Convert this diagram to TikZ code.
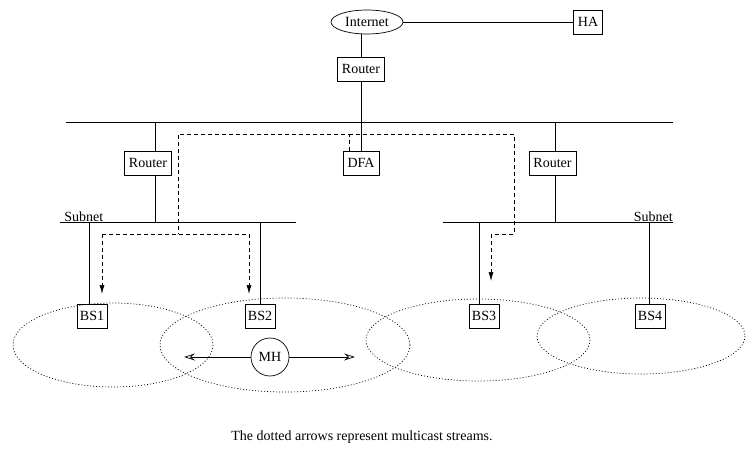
\documentclass[tikz,border=0pt]{standalone}
\usepackage{fontspec}
\setmainfont{Liberation Serif}
\usetikzlibrary{arrows.meta,shapes.geometric}
\begin{document}
\begin{tikzpicture}[x=1pt,y=-1pt,
  font=\fontsize{14}{16}\selectfont,
  line width=0.7pt,
  boxnode/.style={draw,fill=white,inner xsep=4.5pt,inner ysep=0pt,minimum height=24pt,text height=9.5pt,text depth=0.5pt},
  bsbox/.style={boxnode,inner xsep=3pt},
  dsh/.style={dash pattern=on 4pt off 3pt},
  dtd/.style={dash pattern=on 1pt off 2pt},
  darrow/.style={dsh,-{Latex[length=9pt,width=5pt]}},
  mharrow/.style={-{Stealth[open,length=11pt,width=7pt,inset=4pt]}},
  lbl/.style={inner sep=0pt}
]
\useasboundingbox (0,0) rectangle (746,463);

% nodes
\node[draw,ellipse,minimum width=72pt,minimum height=24pt,inner sep=0pt] (inet) at (367,22) {Internet};
\node[boxnode] (ha) at (588,22) {HA};
\node[boxnode] (rt) at (361,69) {Router};

% backbone and subnets
\coordinate (bbL) at (66,122);
\coordinate (bbR) at (673,122);
\coordinate (snLL) at (60,222);
\coordinate (snLR) at (296,222);
\coordinate (snRL) at (443,222);
\coordinate (snRR) at (673,222);
\draw (bbL) -- (bbR);
\draw (snLL) -- (snLR);
\draw (snRL) -- (snRR);

% router lines
\coordinate (lx) at (155,222);
\coordinate (rx) at (555,222);
\draw (lx) -- (lx |- bbL);
\draw (rx) -- (rx |- bbL);

\node[boxnode] (lr) at (148,163) {Router};
\node[boxnode] (rr) at (552.5,163) {Router};
\node[boxnode] (dfa) at (361,163) {DFA};

\draw (inet) -- (ha);
\draw (rt.north) -- (rt.north |- inet.south);
\draw (rt.south) -- (dfa.north);

\node[lbl,anchor=base west] (snl) at (64,221) {Subnet};
\node[lbl,anchor=base east] (snr) at (673,221) {Subnet};

% base stations
\node[bsbox] (bs1) at (92,316) {BS1};
\node[bsbox] (bs2) at (260,316) {BS2};
\node[bsbox] (bs3) at (484,316) {BS3};
\node[bsbox] (bs4) at (650,316) {BS4};

\coordinate (b1x) at (89,222);
\coordinate (b2x) at (260,222);
\coordinate (b3x) at (479,222);
\coordinate (b4x) at (649,222);
\draw (b1x) -- (b1x |- bs1.north);
\draw (b2x) -- (b2x |- bs2.north);
\draw (b3x) -- (b3x |- bs3.north);
\draw (b4x) -- (b4x |- bs4.north);

% multicast streams (dashed)
\coordinate (dA) at (349,151);
\coordinate (dB) at (349,134);
\coordinate (dC) at (178,134);
\coordinate (dD) at (178,234);
\coordinate (dE) at (102,234);
\coordinate (dF) at (249,234);
\coordinate (dG) at (514,134);
\coordinate (dH) at (514,234);
\coordinate (dI) at (491,234);
\coordinate (t1) at (102,294);
\coordinate (t2) at (249,294);
\coordinate (t3) at (491,281);
\draw[dsh] (dA) -- (dB) -- (dC) -- (dD);
\draw[dsh] (dB) -- (dG) -- (dH) -- (dI);
\draw[dsh] (dE) -- (dF);
\draw[darrow] (dE) -- (t1);
\draw[darrow] (dF) -- (t2);
\draw[darrow] (dI) -- (t3);

% cells
\draw[dtd] (113,345) ellipse [x radius=100, y radius=42];
\draw[dtd] (285,345) ellipse [x radius=125, y radius=47];
\draw[dtd] (478,340) ellipse [x radius=112, y radius=41];
\draw[dtd] (641,336) ellipse [x radius=104, y radius=38];

% mobile host
\node[draw,circle,minimum size=38pt,inner sep=0pt] (mh) at (270,357) {MH};
\coordinate (mhL) at (184,357);
\coordinate (mhR) at (355,357);
\draw[mharrow] (mh.west) -- (mhL);
\draw[mharrow] (mh.east) -- (mhR);

\node[lbl] (cap) at (362,437) {The dotted arrows represent multicast streams.};
\end{tikzpicture}
\end{document}
